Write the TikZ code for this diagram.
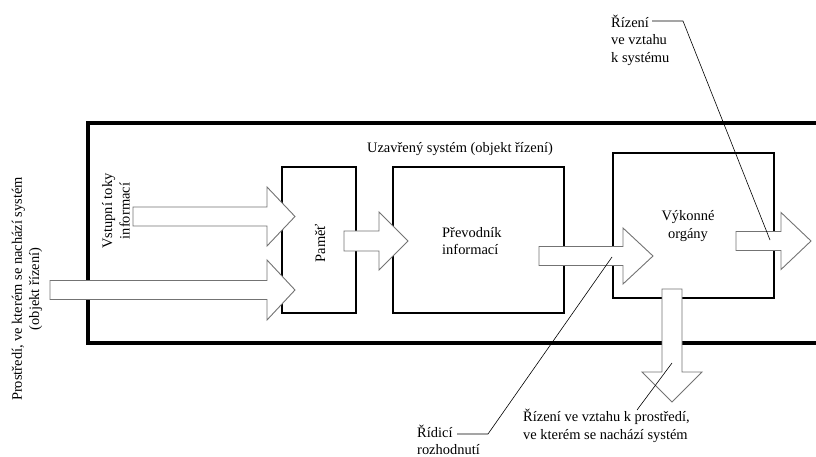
\documentclass[tikz,border=0pt]{standalone}
\usepackage{fontspec}
\setmainfont{Liberation Serif}
\begin{document}
\begin{tikzpicture}[x=1bp,y=-1bp,
  font=\fontsize{14.5}{17.5}\selectfont,
  box/.style={draw=black, line width=2bp},
  outerbox/.style={draw=black, line width=4bp},
  barrow/.style={draw=black!55, fill=white, line width=0.9bp, line join=miter},
  leader/.style={draw=black, line width=0.6bp},
  lbl/.style={inner sep=0pt, align=left},
  clbl/.style={inner sep=0pt, align=center}]
\useasboundingbox (0,0) rectangle (816,457);
% outer system
\draw[outerbox] (818,123) -- (88,123) -- (88,343) -- (818,343);
% boxes
\draw[box] (282,167) rectangle (356,313);
\draw[box] (393,167) rectangle (564,313);
\draw[box] (613,153) rectangle (774,298);
\node[rotate=90, clbl] (mem) at (320,243) {Paměť};
\node[lbl, anchor=west] (conv) at (442,241) {Převodník\\informací};
\node[clbl] (exec) at (688,226) {Výkonné\\orgány};
\node[clbl] (sys) at (460,149) {Uzavřený systém (objekt řízení)};
\node[rotate=90, clbl] (vst) at (116,211) {Vstupní toky\\informací};
\node[rotate=90, clbl] (env) at (27,289) {Prostředí, ve kterém se nachází systém\\(objekt řízení)};
% block arrows (right)
\newcommand\rarrow[6]{% x0 x1 x2 yc hs hh
  \draw[barrow] (#1,#4-#5) -- (#2,#4-#5) -- (#2,#4-#6) -- (#3,#4) -- (#2,#4+#6) -- (#2,#4+#5) -- (#1,#4+#5) -- cycle;}
\rarrow{133}{267}{295}{216.5}{9.5}{29.5}
\rarrow{50}{267}{295}{290}{9.5}{30}
\rarrow{344}{379}{408}{241}{10}{29}
\rarrow{539}{623}{653}{256}{9.5}{28}
\rarrow{736}{781}{811}{241}{9.5}{28.5}
% down arrow
\draw[barrow] (662,289) -- (682,289) -- (682,372) -- (702,372) -- (672,402) -- (642,372) -- (662,372) -- cycle;
% labels with leaders
\node[lbl, anchor=west] (rsys) at (611,40) {Řízení\\ve vztahu\\k systému};
\coordinate (rsysA) at (652,21);
\coordinate (rsysB) at (683,21);
\coordinate (rsysC) at (770,240);
\draw[leader] (rsysA) -- (rsysB) -- (rsysC);
\node[lbl, anchor=west, font=\fontsize{14.5}{16.5}\selectfont] (rdec) at (417,440) {Řídicí\\rozhodnutí};
\coordinate (rdecA) at (457,434);
\coordinate (rdecB) at (488,434);
\coordinate (rdecC) at (612,257);
\draw[leader] (rdecA) -- (rdecB) -- (rdecC);
\node[lbl, anchor=west] (renv) at (523,426) {Řízení ve vztahu k prostředí,\\ve kterém se nachází systém};
\coordinate (renvA) at (637,410);
\coordinate (renvB) at (672,363);
\draw[leader] (renvA) -- (renvB);
\end{tikzpicture}
\end{document}
